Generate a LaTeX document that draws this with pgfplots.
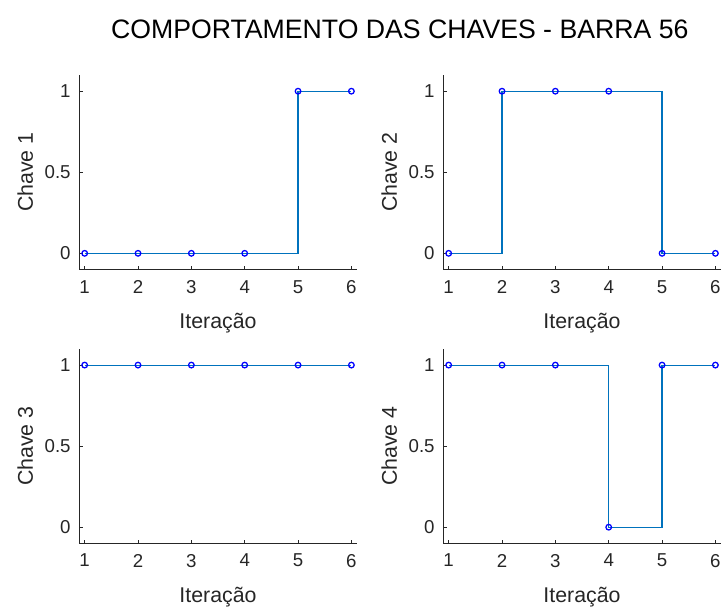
\documentclass[border=0pt]{standalone}
\usepackage{fontspec}
\setmainfont{Liberation Sans}
\usepackage{pgfplots}
\pgfplotsset{compat=1.18}
\definecolor{matblue}{RGB}{0,114,189}
\definecolor{axgray}{RGB}{38,38,38}
\pgfplotsset{
  chave/.style={
    scale only axis, width=208.05pt, height=145.9pt,
    xmin=0.9, xmax=6.1, ymin=-0.1, ymax=1.1,
    axis x line=bottom, axis y line=left,
    axis line style={-, axgray, line width=0.7pt},
    every tick/.style={axgray, line width=0.6pt},
    tick align=inside, major tick length=2.5pt,
    xtick={1,2,3,4,5,6}, ytick={0,0.5,1},
    tick label style={font=\fontsize{14}{16}\selectfont, text=axgray},
    /pgf/number format/assume math mode=true,
    xticklabel style={yshift=-4.5pt},
    yticklabel style={xshift=-3pt},
    label style={font=\fontsize{16}{18}\selectfont, text=axgray},
    xlabel={Iteração},
    xlabel style={at={(axis description cs:0.5,-0.275)}, anchor=center},
    ylabel style={at={(axis description cs:-0.195,0.5)}, anchor=center},
    clip=false,
  },
  stair/.style={const plot, color=matblue, line width=0.85pt},
  pts/.style={only marks, mark=o, mark size=2.1pt, color=blue, mark options={line width=0.95pt}},
}
\begin{document}
\begin{tikzpicture}
\useasboundingbox (0,0) rectangle (542.25pt,455.25pt);
\node[font=\fontsize{20}{24}\selectfont, anchor=center] at (299.85pt,433.5pt) {COMPORTAMENTO DAS CHAVES - BARRA 56};

\begin{axis}[chave, at={(59.5pt,253.1pt)}, anchor=south west, ylabel={Chave 1}]
\addplot[stair] coordinates {(1,0) (2,0) (3,0) (4,0) (5,1) (6,1)};
\addplot[pts] coordinates {(1,0) (2,0) (3,0) (4,0) (5,1) (6,1)};
\end{axis}

\begin{axis}[chave, at={(332.5pt,253.1pt)}, anchor=south west, ylabel={Chave 2}]
\addplot[stair] coordinates {(1,0) (2,1) (3,1) (4,1) (5,0) (6,0)};
\addplot[pts] coordinates {(1,0) (2,1) (3,1) (4,1) (5,0) (6,0)};
\end{axis}

\begin{axis}[chave, at={(59.5pt,47.7pt)}, anchor=south west, ylabel={Chave 3}]
\addplot[stair] coordinates {(1,1) (2,1) (3,1) (4,1) (5,1) (6,1)};
\addplot[pts] coordinates {(1,1) (2,1) (3,1) (4,1) (5,1) (6,1)};
\end{axis}

\begin{axis}[chave, at={(332.5pt,47.7pt)}, anchor=south west, ylabel={Chave 4}]
\addplot[stair] coordinates {(1,1) (2,1) (3,1) (4,0) (5,1) (6,1)};
\addplot[pts] coordinates {(1,1) (2,1) (3,1) (4,0) (5,1) (6,1)};
\end{axis}
\end{tikzpicture}
\end{document}
